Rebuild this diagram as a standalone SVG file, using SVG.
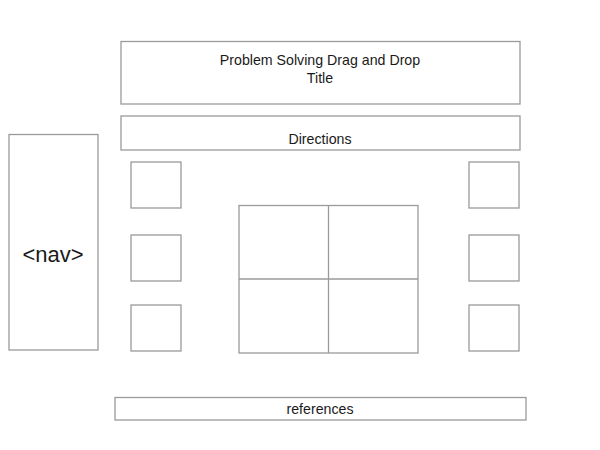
<svg xmlns="http://www.w3.org/2000/svg" width="600" height="450" viewBox="0 0 600 450">
<style>
.b{fill:#fff;stroke:#9a9a9e;stroke-width:1.3}
.t{font-family:"Liberation Sans",Arial,sans-serif;font-size:14.2px;fill:#1a1a1a;text-anchor:middle}
</style>
<rect width="600" height="450" fill="#fff"/>
<g id="title"><rect class="b" x="121" y="41.5" width="399" height="62.5"/>
<text class="t" x="320" y="65">Problem Solving Drag and Drop</text>
<text class="t" x="320" y="82.5">Title</text></g>
<g id="directions"><rect class="b" x="121" y="116" width="399" height="34"/>
<text class="t" x="320" y="144">Directions</text></g>
<g id="nav"><rect class="b" x="9" y="134.5" width="89" height="215.5"/>
<text class="t" x="53" y="262" style="font-size:22px">&lt;nav&gt;</text></g>
<g id="left1"><rect class="b" x="131" y="162" width="50" height="46"/></g>
<g id="left2"><rect class="b" x="131" y="235" width="50" height="46"/></g>
<g id="left3"><rect class="b" x="131" y="305" width="50" height="46"/></g>
<g id="right1"><rect class="b" x="469" y="162" width="50" height="46"/></g>
<g id="right2"><rect class="b" x="469" y="235" width="50" height="46"/></g>
<g id="right3"><rect class="b" x="469" y="305" width="50" height="46"/></g>
<g id="grid"><rect class="b" x="239" y="205.5" width="179" height="147.5"/>
<line class="b" x1="328.5" y1="205.5" x2="328.5" y2="353"/>
<line class="b" x1="239" y1="279" x2="418" y2="279"/></g>
<g id="references"><rect class="b" x="115" y="397.5" width="411" height="22.5"/>
<text class="t" x="320" y="414">references</text></g>
<g id="connectors"></g>
</svg>
